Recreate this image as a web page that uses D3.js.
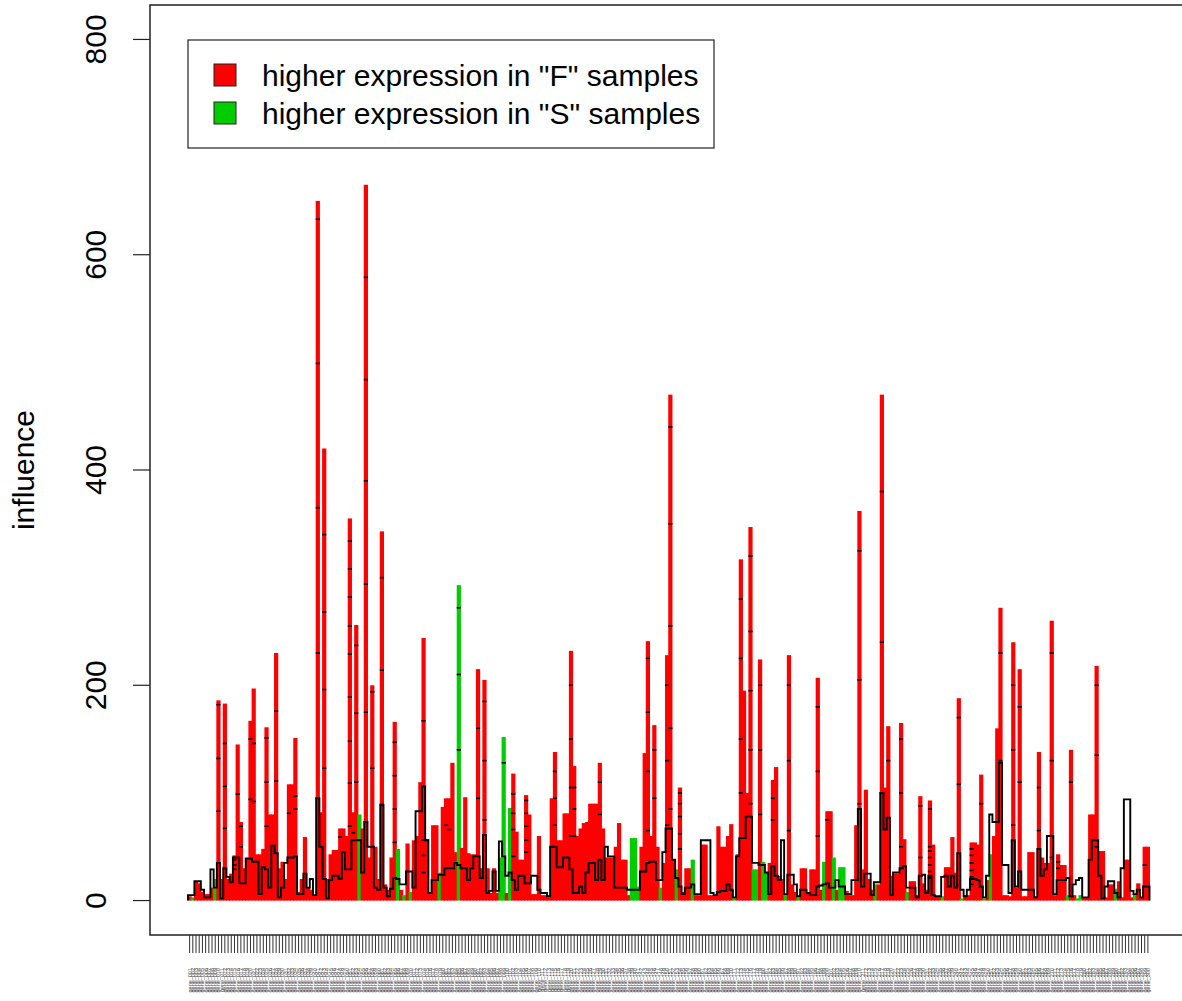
<!DOCTYPE html>
<html>
<head>
<meta charset="utf-8">
<script src="https://cdn.jsdelivr.net/npm/d3@7"></script>
<style>
  html, body { margin: 0; padding: 0; background: #fff; }
  svg { display: block; font-family: "Liberation Sans", Arial, sans-serif; }
</style>
</head>
<body>
<div id="vis"></div>
<script>
// Influence barplot: one bar per gene, coloured by direction, with the expected
// (null) influence drawn as a black step outline and segment marks inside bars.

const influence = [
  4, 3, 18, 16, 8, 6, 6, 12, 20, 186,
  20, 183, 20, 25, 42, 145, 73, 30, 40, 167,
  197, 43, 43, 48, 161, 80, 80, 230, 30, 36,
  20, 108, 108, 151, 8, 20, 59, 12, 10, 5,
  650, 82, 420, 20, 43, 47, 47, 67, 67, 60,
  355, 82, 256, 80, 67, 665, 40, 200, 50, 20,
  343, 15, 10, 40, 166, 48, 10, 5, 53, 8,
  56, 60, 110, 244, 57, 7, 70, 70, 26, 87,
  95, 95, 128, 45, 293, 49, 96, 44, 43, 43,
  215, 30, 205, 30, 7, 30, 7, 40, 152, 7,
  86, 118, 64, 38, 38, 98, 80, 6, 6, 60,
  5, 5, 3, 95, 138, 56, 56, 81, 81, 232,
  125, 60, 67, 72, 73, 90, 90, 90, 128, 67,
  40, 40, 40, 50, 72, 38, 38, 5, 58, 58,
  13, 50, 137, 241, 60, 163, 50, 12, 35, 228,
  470, 38, 29, 105, 8, 30, 30, 38, 5, 5,
  52, 52, 5, 5, 5, 69, 50, 50, 60, 71,
  3, 43, 317, 195, 100, 347, 29, 29, 224, 36,
  26, 35, 112, 124, 23, 20, 6, 228, 15, 8,
  3, 30, 30, 7, 29, 29, 207, 10, 36, 83,
  83, 40, 10, 31, 31, 9, 5, 5, 70, 362,
  29, 103, 20, 10, 15, 15, 470, 105, 162, 23,
  25, 25, 165, 57, 8, 18, 18, 5, 97, 16,
  10, 93, 52, 4, 4, 4, 31, 31, 59, 26,
  188, 2, 5, 5, 54, 54, 52, 117, 2, 19,
  43, 60, 160, 272, 5, 5, 4, 240, 12, 215,
  4, 4, 45, 45, 4, 138, 40, 35, 35, 260,
  5, 43, 33, 33, 5, 140, 5, 2, 5, 3,
  3, 80, 80, 218, 46, 46, 3, 15, 15, 11,
  18, 3, 38, 38, 3, 6, 16, 3, 50, 50
];

const expected = [
  5, 5, 18, 18, 10, 3, 3, 29, 12, 35,
  2, 30, 22, 17, 40, 40, 16, 16, 39, 39,
  36, 36, 6, 31, 29, 12, 51, 44, 3, 12,
  35, 40, 40, 41, 6, 6, 25, 12, 20, 5,
  95, 50, 20, 2, 19, 23, 23, 20, 45, 29,
  29, 56, 56, 56, 26, 73, 50, 50, 12, 10,
  89, 12, 4, 11, 21, 20, 15, 15, 27, 27,
  12, 83, 83, 106, 56, 7, 19, 19, 24, 24,
  30, 30, 30, 35, 33, 30, 30, 19, 30, 41,
  41, 21, 61, 7, 9, 27, 9, 55, 41, 23,
  26, 19, 10, 23, 23, 16, 16, 23, 23, 10,
  7, 7, 4, 50, 50, 31, 31, 40, 40, 29,
  7, 7, 13, 7, 26, 35, 35, 19, 38, 19,
  50, 41, 41, 12, 12, 12, 12, 10, 10, 10,
  10, 27, 27, 35, 36, 36, 19, 19, 45, 67,
  67, 38, 21, 13, 6, 12, 12, 15, 6, 6,
  56, 56, 56, 7, 5, 8, 9, 9, 15, 10,
  3, 41, 58, 58, 78, 78, 35, 35, 33, 33,
  26, 6, 32, 23, 19, 56, 6, 24, 24, 15,
  4, 10, 10, 7, 5, 5, 13, 14, 15, 16,
  12, 12, 19, 13, 13, 6, 6, 19, 19, 85,
  13, 25, 25, 5, 17, 17, 100, 66, 77, 5,
  26, 26, 30, 32, 12, 12, 12, 3, 23, 24,
  7, 23, 5, 4, 4, 22, 23, 13, 23, 12,
  44, 10, 4, 10, 20, 20, 19, 13, 3, 23,
  80, 73, 73, 128, 33, 33, 7, 56, 13, 27,
  10, 10, 10, 10, 3, 48, 23, 29, 60, 60,
  6, 19, 19, 19, 21, 4, 15, 19, 21, 3,
  3, 38, 56, 56, 23, 2, 13, 18, 18, 7,
  3, 30, 94, 94, 9, 6, 10, 3, 13, 13
];

// bars that are higher in the "S" samples (green); all others are "F" (red)
const higherInS = [1, 8, 53, 65, 67, 69, 78, 84, 97, 98, 100, 138, 139, 140, 147,
  152, 157, 170, 176, 177, 179, 180, 186, 190, 198, 201, 203, 204, 214, 224,
  235, 241, 248, 250, 274, 277, 278, 289, 295];

// [bar index, value] of the small black segment marks inside bars
const segmentMarks = [
  [9, 182], [9, 132], [9, 83], [11, 146], [11, 106], [11, 67],
  [14, 38], [14, 33], [14, 29], [15, 99], [16, 69], [16, 50],
  [19, 150], [19, 94], [20, 146], [20, 92], [24, 151], [24, 110], [24, 69],
  [27, 176], [27, 111], [31, 81], [33, 97], [33, 85],
  [40, 633], [40, 499], [40, 365], [40, 230], [40, 95],
  [42, 340], [42, 268], [42, 196], [42, 123], [47, 59],
  [50, 334], [50, 308], [50, 282], [50, 255], [50, 229], [50, 189], [50, 148], [50, 109], [50, 69],
  [51, 63], [52, 237], [52, 174], [52, 110],
  [55, 579], [55, 484], [55, 390], [55, 294], [55, 175], [55, 73],
  [57, 194], [57, 123], [60, 300], [60, 214], [60, 89],
  [64, 147], [64, 116], [64, 85], [64, 54],
  [73, 167], [73, 56], [73, 42], [73, 26], [80, 70], [81, 66],
  [84, 272], [84, 210], [84, 140], [90, 160], [90, 95],
  [92, 185], [92, 130], [92, 75], [98, 128],
  [101, 99], [101, 81], [101, 66], [101, 41],
  [105, 93], [105, 81], [105, 69], [105, 56], [105, 45],
  [114, 120], [114, 95], [114, 70], [119, 200], [119, 150], [119, 105], [119, 60],
  [120, 105], [120, 85], [120, 60], [128, 110], [128, 80],
  [143, 225], [143, 175], [143, 120], [143, 65], [145, 140], [145, 95],
  [149, 200], [149, 130], [149, 70],
  [150, 440], [150, 350], [150, 255], [150, 160], [150, 85],
  [153, 100], [153, 90], [153, 78], [153, 62], [153, 48],
  [172, 280], [172, 225], [172, 150], [172, 100],
  [175, 320], [175, 250], [175, 195], [175, 140], [175, 90],
  [178, 200], [178, 140], [178, 80], [182, 95], [182, 75],
  [187, 200], [187, 130], [187, 65], [196, 180], [196, 120], [196, 60], [199, 75],
  [209, 325], [209, 205], [209, 90], [216, 380], [216, 240], [216, 100], [218, 130],
  [222, 150], [222, 100], [222, 50], [228, 88], [228, 40],
  [231, 85], [231, 50], [231, 46], [231, 40], [231, 33], [231, 27], [231, 21],
  [240, 170], [240, 108], [244, 48], [244, 42], [244, 35], [244, 28], [244, 22], [244, 15],
  [247, 90], [253, 230], [253, 130], [257, 200], [257, 140], [257, 70],
  [259, 180], [259, 110], [265, 105], [265, 65], [269, 230], [269, 130], [269, 40],
  [271, 36], [271, 30], [275, 110], [283, 200], [283, 135], [283, 50], [298, 33]
];

const legendLabels = ['higher expression in "F" samples', 'higher expression in "S" samples'];
const yTicks = [0, 200, 400, 600, 800];
const geneNames = d3.range(influence.length).map(i => "gene_" + String(i + 1).padStart(3, "0"));

const COLORS = { F: "#ff0000", S: "#00cd00" };
const FONT_PX = 30;

const W = 1182, H = 1001;
const plot = { left: 150, top: 5, bottom: 935, right: 1187 };

const svg = d3.select("#vis").append("svg")
  .attr("width", W)
  .attr("height", H);

svg.append("rect").attr("width", W).attr("height", H).attr("fill", "#fff");

// ── Scales ──────────────────────────────────────────────────────────────────

const y = d3.scaleLinear()
  .domain([-32, 832])            // ylim c(0, 800) plus R's 4% padding
  .range([plot.bottom, plot.top]);

const x = d3.scaleBand()
  .domain(d3.range(influence.length))
  .range([188, 1149.5])
  .padding(0);

const bw = x.bandwidth();
const sSet = new Set(higherInS);
const groupOf = i => sSet.has(i) ? "S" : "F";

// ── Bars ────────────────────────────────────────────────────────────────────

svg.append("g")
  .selectAll("rect")
  .data(influence)
  .join("rect")
    .attr("x", (d, i) => x(i) - 0.5)
    .attr("width", bw + 1)
    .attr("y", d => y(d))
    .attr("height", d => y(0) - y(d))
    .attr("fill", (d, i) => COLORS[groupOf(i)]);

// ── Expected influence as a step outline ────────────────────────────────────

const stepPts = expected.map((v, i) => [x(i), y(v)]);
stepPts.push([x(expected.length - 1) + bw, y(expected[expected.length - 1])]);
stepPts.unshift([x(0), y(0)]);
stepPts.push([x(expected.length - 1) + bw, y(0)]);

svg.append("path")
  .attr("d", d3.line().curve(d3.curveStepAfter)(stepPts))
  .attr("fill", "none")
  .attr("stroke", "#000")
  .attr("stroke-width", 1.9);

// segment marks
svg.append("g")
  .selectAll("line")
  .data(segmentMarks)
  .join("line")
    .attr("x1", d => x(d[0]) - 0.5)
    .attr("x2", d => x(d[0]) + bw + 0.5)
    .attr("y1", d => y(d[1]))
    .attr("y2", d => y(d[1]))
    .attr("stroke", "#000")
    .attr("stroke-width", 1.6);

// ── Box and axes ────────────────────────────────────────────────────────────

svg.append("rect")
  .attr("x", plot.left).attr("y", plot.top)
  .attr("width", plot.right - plot.left).attr("height", plot.bottom - plot.top)
  .attr("fill", "none").attr("stroke", "#222").attr("stroke-width", 1.5);

const yAxis = svg.append("g");
yAxis.selectAll("line")
  .data(yTicks)
  .join("line")
    .attr("x1", plot.left - 17).attr("x2", plot.left)
    .attr("y1", d => y(d)).attr("y2", d => y(d))
    .attr("stroke", "#222").attr("stroke-width", 1.2);

yAxis.selectAll("text")
  .data(yTicks)
  .join("text")
    .attr("transform", d => `translate(95,${y(d)}) rotate(-90)`)
    .attr("dy", "0.35em")
    .attr("text-anchor", "middle")
    .style("font-size", FONT_PX + "px")
    .style("fill", "#000")
    .text(d => d);

svg.append("text")
  .attr("transform", `translate(23,${y(400)}) rotate(-90)`)
  .attr("dy", "0.35em")
  .attr("text-anchor", "middle")
  .style("font-size", FONT_PX + "px")
  .style("fill", "#000")
  .text("influence");

// x ticks and tiny gene labels
const xAxis = svg.append("g");
xAxis.selectAll("line")
  .data(geneNames)
  .join("line")
    .attr("x1", (d, i) => x(i) + bw / 2).attr("x2", (d, i) => x(i) + bw / 2)
    .attr("y1", plot.bottom).attr("y2", plot.bottom + 18)
    .attr("stroke", "#333").attr("stroke-width", 1);

xAxis.selectAll("text")
  .data(geneNames)
  .join("text")
    .attr("transform", (d, i) => `translate(${x(i) + bw / 2},968) rotate(-90)`)
    .attr("dy", "0.35em")
    .attr("text-anchor", "end")
    .style("font-size", "5.5px")
    .style("fill", "#444")
    .text(d => d);

// ── Legend ──────────────────────────────────────────────────────────────────

const legend = svg.append("g");
legend.append("rect")
  .attr("x", 188).attr("y", 40).attr("width", 526).attr("height", 108)
  .attr("fill", "#fff").attr("stroke", "#222").attr("stroke-width", 1.2);

legend.selectAll("g.item")
  .data(legendLabels)
  .join("g")
    .attr("class", "item")
    .attr("transform", (d, i) => `translate(0,${75 + i * 38})`)
    .each(function(d, i) {
      const g = d3.select(this);
      g.append("rect")
        .attr("x", 214).attr("y", -11).attr("width", 22).attr("height", 22)
        .attr("fill", i === 0 ? COLORS.F : COLORS.S)
        .attr("stroke", "#222").attr("stroke-width", 1);
      g.append("text")
        .attr("x", 262).attr("dy", "0.35em")
        .style("font-size", FONT_PX + "px")
        .style("fill", "#000")
        .text(d);
    });
</script>
</body>
</html>
